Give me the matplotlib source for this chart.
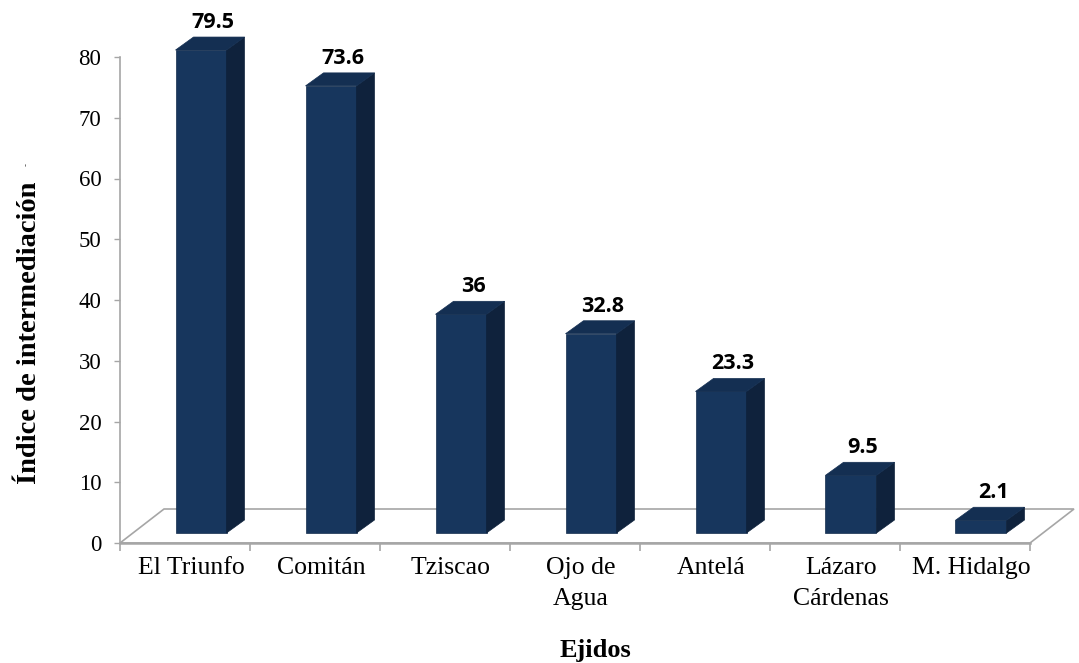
import matplotlib
matplotlib.use("Agg")
from matplotlib import pyplot as plt
from matplotlib.patches import Polygon
from matplotlib.transforms import ScaledTranslation

# DATOS
ejidos = ["El Triunfo", "Comitán", "Tziscao", "Ojo de\nAgua", "Antelá",
          "Lázaro\nCárdenas", "M. Hidalgo"]
indice = [79.5, 73.6, 36, 32.8, 23.3, 9.5, 2.1]
etiquetas = ["79.5", "73.6", "36", "32.8", "23.3", "9.5", "2.1"]
y_ticks = [0, 10, 20, 30, 40, 50, 60, 70, 80]

# COLORES
FRENTE = "#17365D"
LADO = "#0F223C"
TECHO = "#142F52"
GRIS = "#A6A6A6"

W, H = 1079, 663
fig = plt.figure(figsize=(W / 100, H / 100), dpi=100)
ax = fig.add_axes([120 / W, 120 / H, 910 / W, 486 / H])
ax.set_xlim(-0.5, 6.5)
ax.set_ylim(0, 80)

# pixeles -> unidades de datos
px_x = 7 / 910
px_y = 80 / 486

ancho = 51 * px_x
desp_x, desp_y = 16 * px_x, 10 * px_y      # cara frontal de la barra
prof_x, prof_y = 18 * px_x, 13 * px_y      # profundidad de la barra
piso_x, piso_y = 44 * px_x, 34 * px_y      # profundidad del piso

# PISO
piso = Polygon([(-0.5, 0), (6.5, 0), (6.5 + piso_x, piso_y), (-0.5 + piso_x, piso_y)],
               closed=True, facecolor="white", edgecolor=GRIS, lw=1.2,
               clip_on=False, zorder=1)
ax.add_patch(piso)

# BARRAS 3D
xs = list(range(len(indice)))
ax.bar([x + desp_x for x in xs], indice, width=ancho, bottom=desp_y,
       color=FRENTE, edgecolor="#132C4C", lw=0.5, clip_on=False, zorder=3)
for x, h, lbl in zip(xs, indice, etiquetas):
    xl = x + desp_x - ancho / 2
    xr = x + desp_x + ancho / 2
    top = desp_y + h
    lado = Polygon([(xr, desp_y), (xr + prof_x, desp_y + prof_y),
                    (xr + prof_x, top + prof_y), (xr, top)],
                   closed=True, facecolor=LADO, edgecolor=LADO, lw=0.5,
                   clip_on=False, zorder=3)
    techo = Polygon([(xl, top), (xr, top), (xr + prof_x, top + prof_y),
                     (xl + prof_x, top + prof_y)],
                    closed=True, facecolor=TECHO, edgecolor=TECHO, lw=0.5,
                    clip_on=False, zorder=3)
    ax.add_patch(lado)
    ax.add_patch(techo)
    ax.annotate(lbl, (x + desp_x + prof_x / 2, top + prof_y), xytext=(3, 9),
                textcoords="offset pixels", ha="center", va="baseline",
                fontsize=15.5, fontweight="bold", family="Open Sans",
                annotation_clip=False)

# EJES
for s in ["top", "right"]:
    ax.spines[s].set_visible(False)
ax.spines["left"].set_color(GRIS)
ax.spines["left"].set_linewidth(1.2)
ax.spines["bottom"].set_color(GRIS)
ax.spines["bottom"].set_linewidth(1.8)

ax.set_yticks(y_ticks)
ax.set_yticklabels([str(t) for t in y_ticks], family="Liberation Serif", fontsize=16.5)
ax.tick_params(axis="y", length=4.5, width=1, color=GRIS, pad=9)

ax.set_xticks(xs)
ax.set_xticklabels(ejidos, family="Liberation Serif", fontsize=18.5, linespacing=1.55)
ax.set_xticks([x - 0.5 for x in range(len(indice) + 1)], minor=True)
ax.tick_params(axis="x", which="major", length=0, pad=10)
ax.tick_params(axis="x", which="minor", length=6, width=1.2, color=GRIS)
for t in ax.get_xticklabels():
    t.set_transform(t.get_transform() + ScaledTranslation(0.06, 0, fig.dpi_scale_trans))

fig.text(30 / W, 1 - 333 / H, "Índice de intermediación", rotation=90,
         ha="center", va="center", family="Liberation Serif", fontweight="bold",
         fontsize=20.5)
fig.text(26 / W, 1 - 164 / H, "-", rotation=90, ha="center", va="center",
         family="DejaVu Sans", fontsize=6, color="#444444")
fig.text(595 / W, 1 - 650 / H, "Ejidos", ha="center", va="center",
         family="Liberation Serif", fontweight="bold", fontsize=19)

fig.savefig("out.png", dpi=100)
